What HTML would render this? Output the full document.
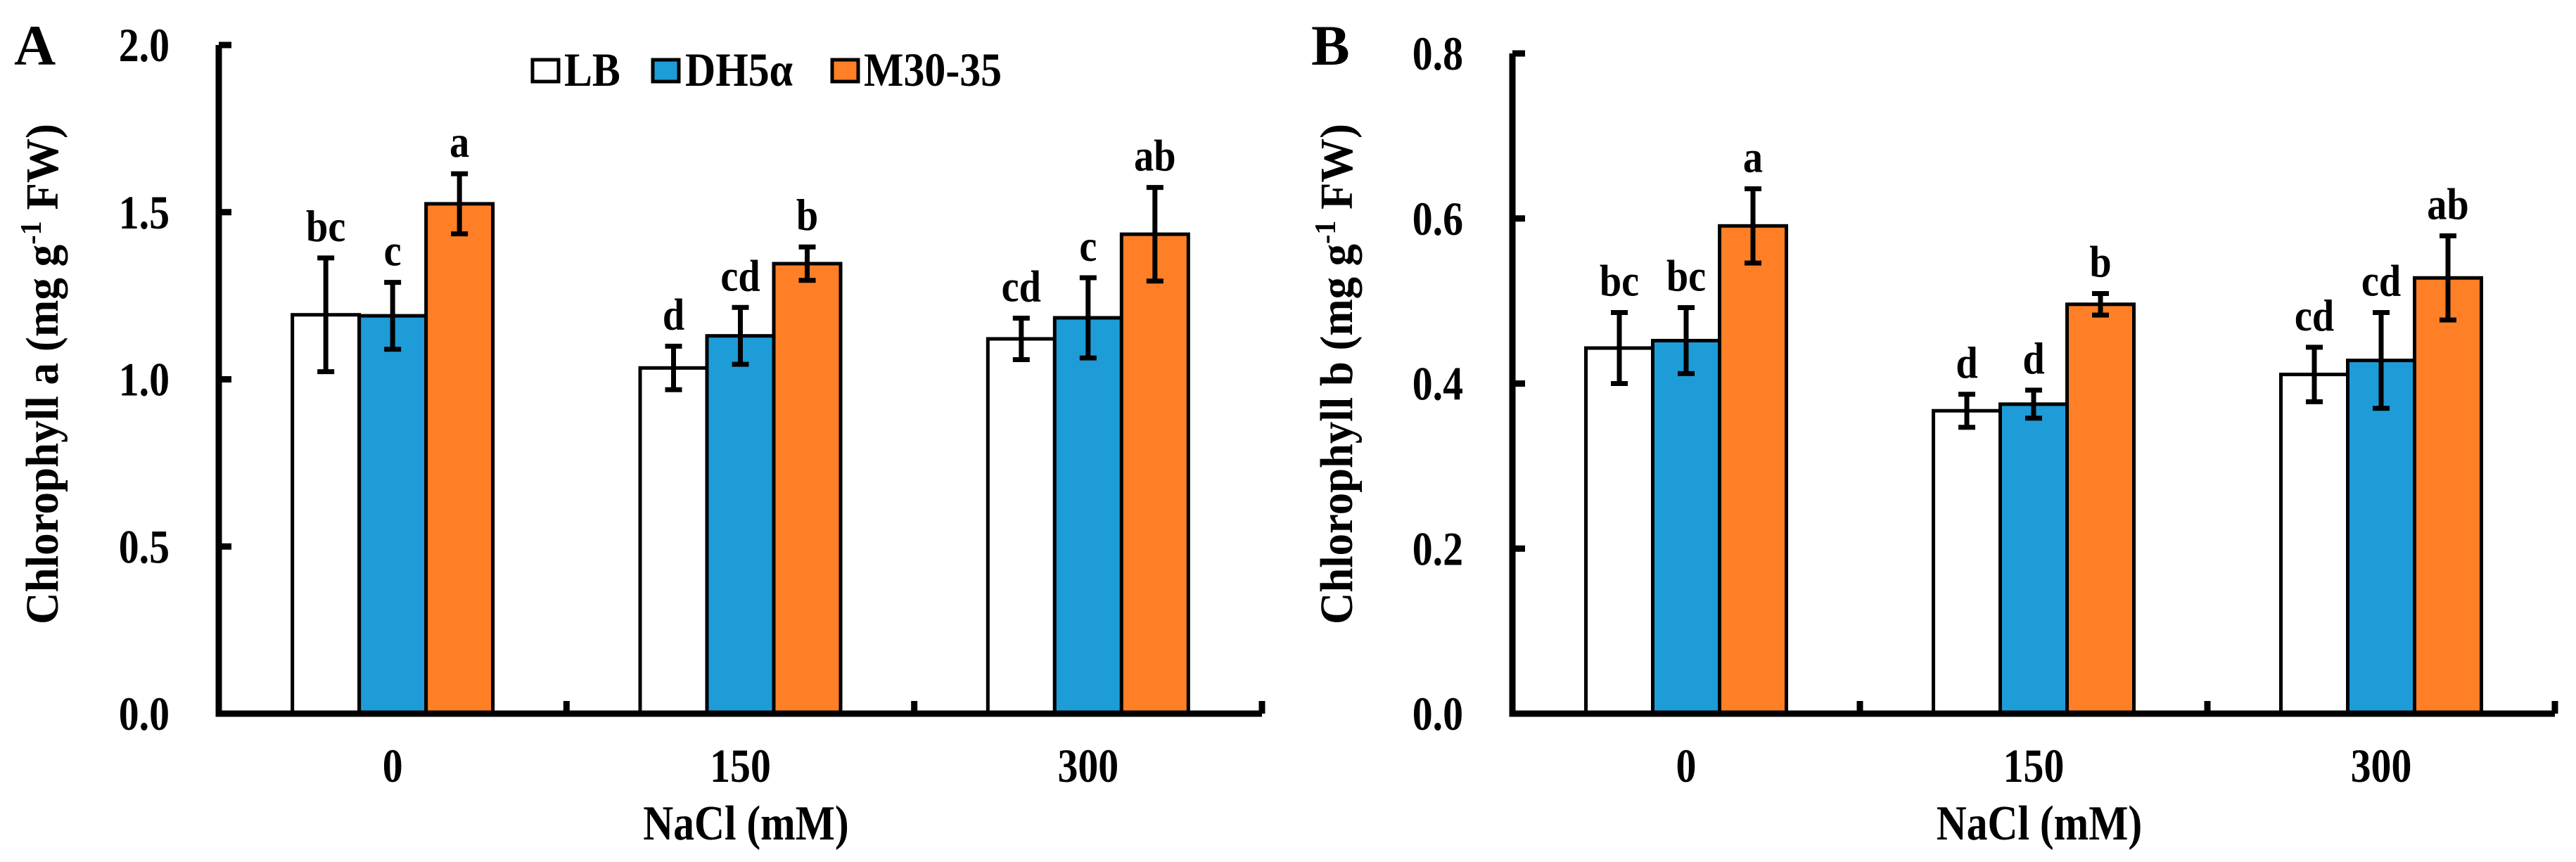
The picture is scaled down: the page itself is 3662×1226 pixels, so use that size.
<!DOCTYPE html>
<html><head><meta charset="utf-8"><style>
html,body{margin:0;padding:0;background:#fff}
svg{display:block}
text{font-family:"Liberation Serif",serif;font-weight:bold;fill:#000}
</style></head><body>
<svg id="chart" width="3662" height="1226" viewBox="0 0 3662 1226" xmlns="http://www.w3.org/2000/svg"></svg>
<script>
const categories = ["0", "150", "300"];
const seriesNames = ["LB", "DH5\u03b1", "M30-35"];
const chlA_LB = [1.193, 1.034, 1.121];
const chlA_DH = [1.190, 1.130, 1.184];
const chlA_M = [1.525, 1.346, 1.434];
const chlA_errLB = [0.17, 0.065, 0.062];
const chlA_errDH = [0.10, 0.085, 0.12];
const chlA_errM = [0.09, 0.05, 0.14];
const chlA_letLB = ["bc", "d", "cd"];
const chlA_letDH = ["c", "cd", "c"];
const chlA_letM = ["a", "b", "ab"];
const chlB_LB = [0.443, 0.367, 0.411];
const chlB_DH = [0.452, 0.375, 0.428];
const chlB_M = [0.591, 0.496, 0.528];
const chlB_errLB = [0.043, 0.02, 0.033];
const chlB_errDH = [0.04, 0.017, 0.058];
const chlB_errM = [0.045, 0.013, 0.051];
const chlB_letLB = ["bc", "d", "cd"];
const chlB_letDH = ["bc", "d", "cd"];
const chlB_letM = ["a", "b", "ab"];
const ticksA = ["0.0", "0.5", "1.0", "1.5", "2.0"];
const ticksB = ["0.0", "0.2", "0.4", "0.6", "0.8"];
const colors = ["#ffffff", "#1e9cd8", "#ff7f27"];

const NS = "http://www.w3.org/2000/svg";
const svg = document.getElementById("chart");
function mk(tag, attrs, parent) {
  const e = document.createElementNS(NS, tag);
  for (const k in attrs) e.setAttribute(k, attrs[k]);
  (parent || svg).appendChild(e);
  return e;
}
function txt(parent, x, y, s, size, anchor, sx) {
  const t = mk("text", {transform: "translate(" + x + "," + y + ") scale(" + sx + ",1)", "font-size": size, "text-anchor": anchor}, parent);
  t.textContent = s;
  return t;
}

function panel(cfg) {
  const g = mk("g", {});
  
  
  const x0 = cfg.x0, x1 = cfg.x1, yTop = cfg.yTop, yBot = 1015;
  const ymax = cfg.ymax;
  const yS = v => yBot - (v / ymax) * (yBot - yTop);
  const catW = (x1 - x0) / categories.length;
  const xC = i => x0 + catW * (i + 0.5);
  const barW = 95;

  const vals = [cfg.lb, cfg.dh, cfg.m], errs = [cfg.elb, cfg.edh, cfg.em], lets = [cfg.llb, cfg.ldh, cfg.lm];
  for (let i = 0; i < categories.length; i++) {
    for (let s = 0; s < 3; s++) {
      const bx = xC(i) + (s - 1.5) * barW;
      const v = vals[s][i], e = errs[s][i];
      const r = mk("rect", {x: bx, y: yS(v), width: barW, height: yBot - yS(v), fill: colors[s], stroke: "#000", "stroke-width": 5}, g);
      
      
      const cx = bx + barW / 2;
      const eb = mk("path", {d: "M" + cx + "," + yS(v + e) + "V" + yS(v - e) + "M" + (cx - 12) + "," + yS(v + e) + "h24M" + (cx - 12) + "," + yS(v - e) + "h24", stroke: "#000", "stroke-width": 7, fill: "none"}, g);
      
      
      const lt = txt(g, cx, yS(v + e) - 24, lets[s][i], 64, "middle", 0.88);
      
      
    }
    const cl = txt(g, xC(i), 1112, categories[i], 68, "middle", 0.85);
    
    
  }
  const ax = mk("path", {d: "M" + x0 + "," + yTop + "V" + yBot + "H" + x1, stroke: "#000", "stroke-width": 9, fill: "none"}, g);
  
  
  for (let k = 0; k < cfg.ticks.length; k++) {
    const v = parseFloat(cfg.ticks[k]);
    const yy = yS(v);
    const tk = mk("line", {x1: x0, x2: x0 + 18, y1: yy, y2: yy, stroke: "#000", "stroke-width": 9}, g);
    
    
    const tl = txt(g, x0 - 70, yy + 23, cfg.ticks[k], 68, "end", 0.85);
    
    
  }
  for (let i = 1; i <= categories.length; i++) {
    const xx = x0 + catW * i;
    const tk = mk("line", {x1: xx, x2: xx, y1: yBot, y2: yBot - 18, stroke: "#000", "stroke-width": 9}, g);
    
    
  }
  const xt = txt(g, (x0 + x1) / 2 + 8, 1194, "NaCl (mM)", 70, "middle", 0.85);
  
  
  const yt = mk("text", {transform: "translate(" + cfg.ytX + ",532) rotate(-90)", "font-size": 66, "text-anchor": "middle", textLength: 712, lengthAdjust: "spacingAndGlyphs"}, g);
  
  
  yt.innerHTML = 'Chlorophyll ' + cfg.sub + ' (mg g<tspan dy="-24" font-size="42">-1</tspan><tspan dy="24"> FW)</tspan>';
  const pl = txt(g, cfg.letX, 92, cfg.letter, 82, "start", 1);
  
  
}

panel({name: "panel-a-chlorophyll-a", x0: 311, x1: 1794, yTop: 64, ymax: 2.0, ticks: ticksA,
  lb: chlA_LB, dh: chlA_DH, m: chlA_M, elb: chlA_errLB, edh: chlA_errDH, em: chlA_errM,
  llb: chlA_letLB, ldh: chlA_letDH, lm: chlA_letM, ytX: 82, sub: "a", letter: "A", letX: 20});
panel({name: "panel-b-chlorophyll-b", x0: 2150, x1: 3632, yTop: 76, ymax: 0.8, ticks: ticksB,
  lb: chlB_LB, dh: chlB_DH, m: chlB_M, elb: chlB_errLB, edh: chlB_errDH, em: chlB_errM,
  llb: chlB_letLB, ldh: chlB_letDH, lm: chlB_letM, ytX: 1922, sub: "b", letter: "B", letX: 1864});

const lg = mk("g", {});


const legX = [757, 928, 1183], legTX = [802, 974, 1228];
for (let s = 0; s < 3; s++) {
  const sw = mk("rect", {x: legX[s], y: 85, width: 37, height: 31, fill: colors[s], stroke: "#000", "stroke-width": 5}, lg);
  
  
  const lt = txt(lg, legTX[s], 122, seriesNames[s], 68, "start", 0.88);
  
  
}
</script>
</body></html>
